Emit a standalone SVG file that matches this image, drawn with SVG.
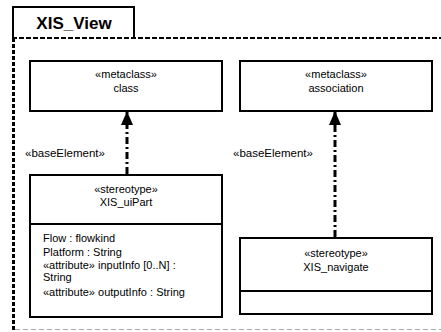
<svg xmlns="http://www.w3.org/2000/svg" width="441" height="332" viewBox="0 0 441 332">
<style>
text{font-family:"Liberation Sans",Arial,sans-serif;font-size:11px;fill:#000}
.c{text-anchor:middle}
.lbl{font-size:11.5px}
.box{fill:#fff;stroke:#000;stroke-width:2}
.dep{fill:none;stroke:#000;stroke-width:3;stroke-dasharray:7 3 2 3}
</style>
<defs>
<marker id="ah" markerWidth="14" markerHeight="12" refX="13" refY="6" orient="auto" markerUnits="userSpaceOnUse" viewBox="0 0 14 12">
<path d="M14 6 L0 12 L0 0 Z" fill="#000"/>
</marker>
</defs>
<rect width="441" height="332" fill="#fff"/>
<g id="frame">
<path d="M13 38 V7 H134 V38" fill="none" stroke="#000" stroke-width="2"/>
<text x="74" y="29" class="c" style="font-size:17px;font-weight:bold">XIS_View</text>
<line x1="12" y1="38" x2="441" y2="38" stroke="#000" stroke-width="2" stroke-dasharray="5 2"/>
<line x1="13.5" y1="38" x2="13.5" y2="330" stroke="#000" stroke-width="3" stroke-dasharray="4 2"/>
<line x1="15" y1="329.5" x2="441" y2="329.5" stroke="#aaa" stroke-width="1" stroke-dasharray="5 3"/>
</g>
<g id="class">
<rect class="box" x="30" y="61" width="192" height="50"/>
<text x="126" y="78" class="c">«metaclass»</text>
<text x="126" y="92" class="c">class</text>
</g>
<g id="association">
<rect class="box" x="240" y="61" width="192" height="50"/>
<text x="336" y="78" class="c">«metaclass»</text>
<text x="336" y="92" class="c">association</text>
</g>
<g id="XIS_uiPart">
<rect class="box" x="30" y="175" width="192" height="142"/>
<line x1="30" y1="224" x2="222" y2="224" stroke="#000" stroke-width="2"/>
<text x="126" y="193" class="c">«stereotype»</text>
<text x="126" y="206" class="c">XIS_uiPart</text>
<text x="43" y="242">Flow : flowkind</text>
<text x="43" y="256">Platform : String</text>
<text x="43" y="269">«attribute» inputInfo [0..N] :</text>
<text x="43" y="281">String</text>
<text x="43" y="296">«attribute» outputInfo : String</text>
</g>
<g id="XIS_navigate">
<rect class="box" x="240" y="238" width="192" height="76"/>
<line x1="240" y1="291" x2="432" y2="291" stroke="#000" stroke-width="2"/>
<text x="336" y="257" class="c">«stereotype»</text>
<text x="336" y="271" class="c">XIS_navigate</text>
</g>
<g id="connectors">
<line class="dep" x1="127" y1="174" x2="127" y2="112" marker-end="url(#ah)"/>
<line class="dep" x1="335" y1="237" x2="335" y2="112" marker-end="url(#ah)"/>
<text x="25" y="157" class="lbl">«baseElement»</text>
<text x="233" y="157" class="lbl">«baseElement»</text>
</g>
</svg>
